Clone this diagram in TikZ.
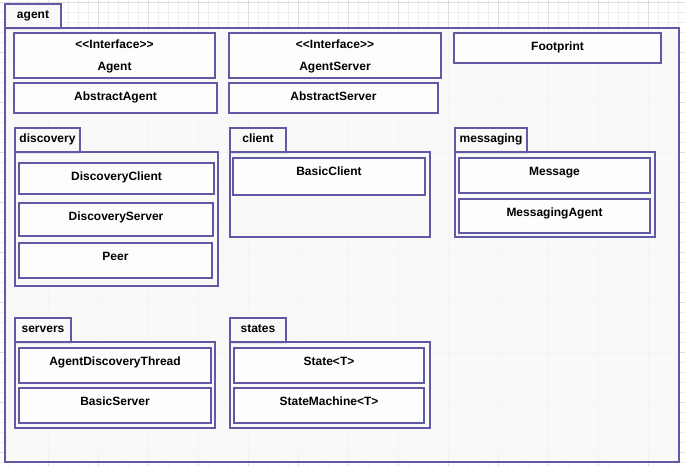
\documentclass[tikz,border=0pt]{standalone}
\usepackage{fontspec}
\newfontfamily\umlfont{Liberation Sans}
\definecolor{umlline}{RGB}{96,90,166}
\definecolor{gridminor}{RGB}{238,238,238}
\definecolor{gridmajor}{RGB}{222,222,222}
\definecolor{pkgfill}{RGB}{249,249,249}
\tikzset{
  umltext/.style={font=\umlfont\bfseries\fontsize{12}{14}\selectfont, text=black, inner sep=0pt},
  pkgtab/.style={draw=umlline, line width=2.4pt, fill=pkgfill, fill opacity=0.85, draw opacity=1, text opacity=1, rectangle, inner sep=0pt, outer sep=0pt, anchor=north west},
  pkgbody/.style={draw=umlline, line width=2.4pt, fill=pkgfill, fill opacity=0.85, draw opacity=1, rectangle, inner sep=0pt, outer sep=0pt, anchor=north west},
  clsbox/.style={draw=umlline, line width=2.4pt, fill=white, fill opacity=0.8, draw opacity=1, rectangle, inner sep=0pt, outer sep=0pt, anchor=north west},
}
\newcommand{\umlpkg}[7]{% name, x, y, tabw, bodyw, bodyh, label
  \node[pkgtab, minimum width=#4pt, minimum height=25pt] (#1-tab) at (#2,#3) {};
  \node[pkgbody, minimum width=#5pt, minimum height=#6pt] (#1) at (#2,#3+24) {};
  \node[umltext, anchor=base] (#1-lbl) at ([yshift=-14.5pt]#1-tab.north) {#7};
}
\newcommand{\umlcls}[6]{% name, x, y, w, h, text
  \node[clsbox, minimum width=#4pt, minimum height=#5pt] (#1) at (#2,#3) {};
  \node[umltext, anchor=base] (#1-t) at ([yshift=-17pt]#1.north) {#6};
}
\newcommand{\umliface}[6]{% name, x, y, w, h, text
  \node[clsbox, minimum width=#4pt, minimum height=#5pt] (#1) at (#2,#3) {};
  \node[umltext, anchor=base] (#1-s) at ([yshift=-15.5pt]#1.north) {<<Interface>>};
  \node[umltext, anchor=base] (#1-t) at ([yshift=-37pt]#1.north) {#6};
}
\begin{document}
\begin{tikzpicture}[x=1pt, y=-1pt]
\useasboundingbox (0,0) rectangle (685,466);
\fill[white] (0,0) rectangle (685,466);
% background grid
\foreach \gx in {8,18,...,688} \draw[gridminor, line width=0.8pt] (\gx,0) -- (\gx,466);
\foreach \gy in {2.5,12.5,...,466} \draw[gridminor, line width=0.8pt] (0,\gy) -- (685,\gy);
\foreach \gx in {48,98,...,688} \draw[gridmajor, line width=0.8pt] (\gx,0) -- (\gx,466);
\foreach \gy in {2.5,52.5,...,466} \draw[gridmajor, line width=0.8pt] (0,\gy) -- (685,\gy);

% outer package
\node[pkgtab, minimum width=56pt, minimum height=25pt] (agent-tab) at (5,4) {};
\node[pkgbody, minimum width=674pt, minimum height=434pt] (agent) at (5,28) {};
\node[umltext, anchor=base] (agent-lbl) at ([yshift=-14.5pt]agent-tab.north) {agent};

% top level classes
\umliface{Agent}{14}{33}{201}{45}{Agent}
\umlcls{AbstractAgent}{14}{83}{203}{30}{AbstractAgent}
\umliface{AgentServer}{229}{33}{212}{45}{AgentServer}
\umlcls{AbstractServer}{229}{83}{209}{30}{AbstractServer}
\umlcls{Footprint}{454}{33}{207}{30}{Footprint}

% discovery
\umlpkg{discovery}{15}{128}{65}{203}{134}{discovery}
\umlcls{DiscoveryClient}{19}{163}{195}{31}{DiscoveryClient}
\umlcls{DiscoveryServer}{19}{203}{194}{33}{DiscoveryServer}
\umlcls{Peer}{19}{243}{193}{35}{Peer}

% client
\umlpkg{client}{230}{128}{56}{200}{85}{client}
\umlcls{BasicClient}{233}{158}{192}{37}{BasicClient}

% messaging
\umlpkg{messaging}{455}{128}{72}{200}{85}{messaging}
\umlcls{Message}{459}{158}{191}{35}{Message}
\umlcls{MessagingAgent}{459}{199}{191}{34}{MessagingAgent}

% servers
\umlpkg{servers}{15}{318}{56}{200}{86}{servers}
\umlcls{AgentDiscoveryThread}{19}{348}{192}{35}{AgentDiscoveryThread}
\umlcls{BasicServer}{19}{388}{192}{35}{BasicServer}

% states
\umlpkg{states}{230}{318}{56}{200}{86}{states}
\umlcls{State}{234}{348}{190}{35}{State<T>}
\umlcls{StateMachine}{234}{388}{190}{35}{StateMachine<T>}
\end{tikzpicture}
\end{document}
